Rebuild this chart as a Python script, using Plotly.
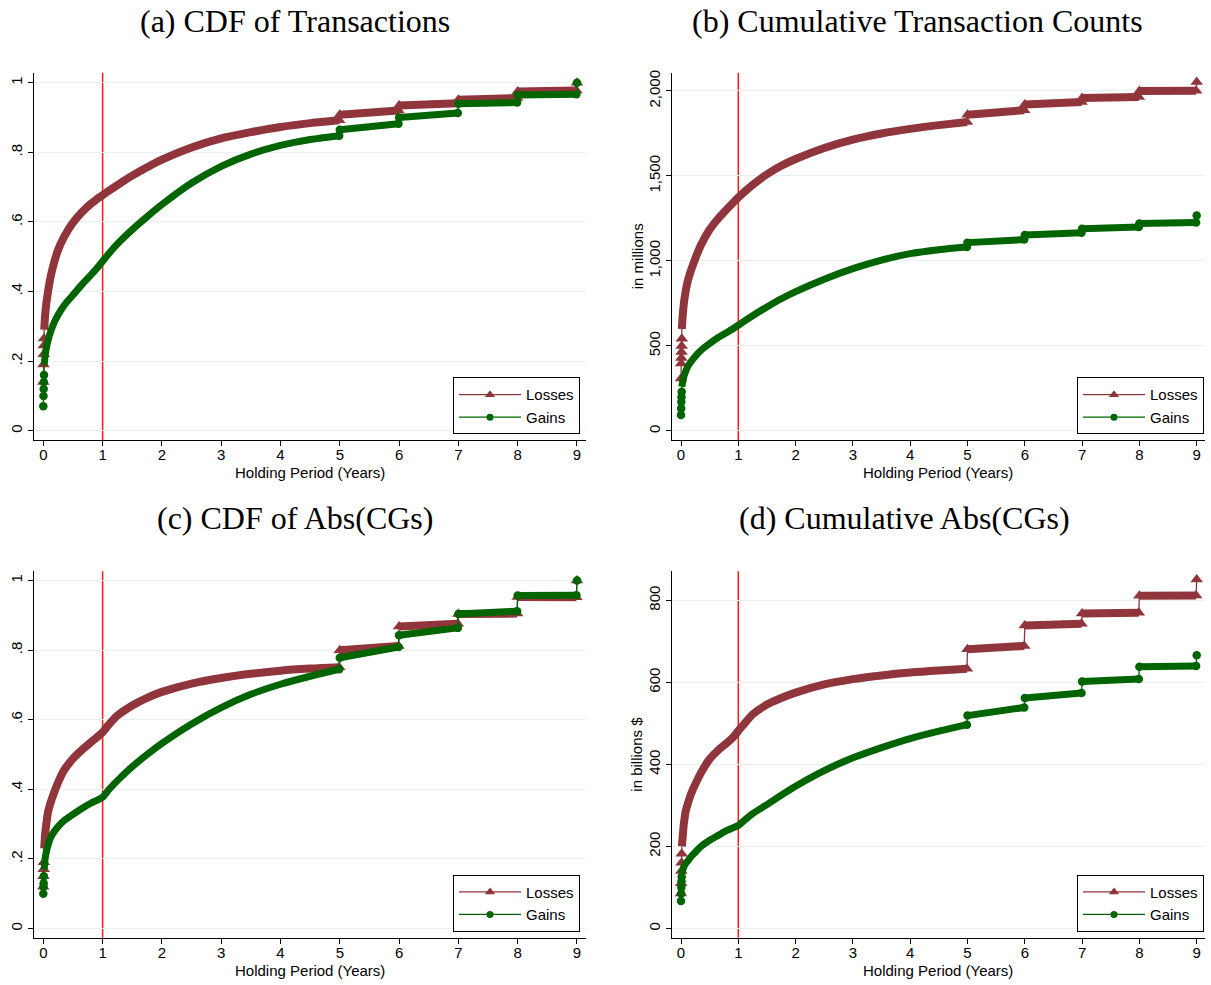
import plotly.graph_objects as go

W, H = 1211, 985

# Holding period grid (years) for the smooth part of each curve
YEARS = [0.015, 0.03, 0.05, 0.08, 0.12, 0.18, 0.25, 0.35, 0.5, 0.65, 0.8, 0.9,
         1.0, 1.1, 1.25, 1.5, 1.75, 2.0, 2.5, 3.0, 3.5, 4.0, 4.5, 4.99]
# first days of holding (in years), shown as separate markers
FIRST_DAYS = [0.0, 0.003, 0.006, 0.009, 0.012, 0.014]
# yearly steps: each segment runs from year k to just under k + 1
STEP_YEARS = [5, 6, 7, 8]
LAST_YEAR = 9
X_TICKS = [0, 1, 2, 3, 4, 5, 6, 7, 8, 9]

# (a) CDF of Transactions
A_LOSS_FIRST = [0.14, 0.19, 0.22, 0.245, 0.265]
A_LOSS = [0.29, 0.33, 0.365, 0.40, 0.44, 0.482, 0.52, 0.557, 0.598, 0.628, 0.652, 0.665,
          0.677, 0.689, 0.706, 0.733, 0.757, 0.779, 0.814, 0.84, 0.858, 0.873, 0.884, 0.892]
A_LOSS_STEPS = [(0.908, 0.920), (0.935, 0.941), (0.951, 0.956), (0.975, 0.978)]
A_LOSS_LAST = 1.0
A_GAIN_FIRST = [0.07, 0.10, 0.12, 0.14, 0.16]
A_GAIN = [0.19, 0.215, 0.237, 0.26, 0.283, 0.31, 0.333, 0.36, 0.39, 0.42, 0.447, 0.466,
          0.487, 0.508, 0.537, 0.578, 0.615, 0.65, 0.712, 0.76, 0.795, 0.82, 0.837, 0.848]
A_GAIN_STEPS = [(0.865, 0.882), (0.900, 0.913), (0.940, 0.943), (0.965, 0.967)]
A_GAIN_LAST = 1.0

# (b) Cumulative Transaction Counts (millions)
B_LOSS_FIRST = [309, 397, 430, 465, 500, 543]
B_LOSS = [600, 680, 750, 820, 885, 950, 1015, 1095, 1185, 1250, 1305, 1340,
          1374, 1405, 1448, 1510, 1560, 1600, 1665, 1714, 1750, 1777, 1799, 1818]
B_LOSS_STEPS = [(1860, 1887), (1920, 1935), (1958, 1965), (2000, 2002)]
B_LOSS_LAST = 2053
B_GAIN_FIRST = [94, 133, 172, 200, 231]
B_GAIN = [260, 290, 320, 350, 380, 410, 440, 475, 515, 550, 580, 600,
          622, 645, 678, 730, 778, 820, 893, 955, 1005, 1043, 1066, 1082]
B_GAIN_STEPS = [(1108, 1126), (1153, 1166), (1190, 1200), (1220, 1226)]
B_GAIN_LAST = 1267

# (c) CDF of Abs(CGs)
C_LOSS_FIRST = [0.12, 0.15, 0.17, 0.19]
C_LOSS = [0.23, 0.27, 0.30, 0.335, 0.36, 0.39, 0.42, 0.455, 0.488, 0.513, 0.535, 0.549,
          0.564, 0.585, 0.612, 0.641, 0.663, 0.68, 0.704, 0.72, 0.732, 0.741, 0.747, 0.751]
C_LOSS_STEPS = [(0.800, 0.812), (0.868, 0.876), (0.904, 0.905), (0.953, 0.952)]
C_LOSS_LAST = 1.0
C_GAIN_FIRST = [0.10, 0.12, 0.13, 0.15]
C_GAIN = [0.17, 0.20, 0.22, 0.24, 0.26, 0.278, 0.293, 0.31, 0.328, 0.345, 0.36, 0.368,
          0.377, 0.398, 0.425, 0.465, 0.50, 0.532, 0.588, 0.635, 0.673, 0.702, 0.725, 0.745]
C_GAIN_STEPS = [(0.778, 0.809), (0.843, 0.864), (0.904, 0.912), (0.957, 0.958)]
C_GAIN_LAST = 1.0

# (d) Cumulative Abs(CGs) (billions $)
D_LOSS_FIRST = [85, 110, 140, 160, 182]
D_LOSS = [200, 225, 255, 285, 305, 330, 352, 380, 413, 435, 452, 465,
          482, 498, 522, 546, 562, 575, 595, 608, 617, 624, 629, 633]
D_LOSS_STEPS = [(681, 689), (739, 743), (768, 770), (811, 812)]
D_LOSS_LAST = 851
D_GAIN_FIRST = [67, 85, 100, 115, 126]
D_GAIN = [135, 142, 150, 158, 165, 176, 186, 200, 215, 227, 239, 245,
          251, 263, 280, 302, 325, 347, 385, 416, 441, 463, 481, 497]
D_GAIN_STEPS = [(519, 539), (562, 574), (602, 608), (638, 640)]
D_GAIN_LAST = 666

LOSS_COLOR = "#90353b"
GAIN_COLOR = "#006400"
SANS = "Liberation Sans"
SERIF = "Liberation Serif"

fig = go.Figure()


def add_series(n, first, curve, steps, last, color, symbol, msize, band_w, name):
    xa = "x" if n == 1 else f"x{n}"
    ya = "y" if n == 1 else f"y{n}"
    fx = FIRST_DAYS[:len(first)]
    seg_end = [k + 1 - 0.01 for k in STEP_YEARS]

    # thin connectors: first days into the curve, and the jump at each year
    tx = list(fx) + [YEARS[0], None]
    ty = list(first) + [curve[0], None]
    px, py = YEARS[-1], curve[-1]
    for k, e, (s0, s1) in zip(STEP_YEARS, seg_end, steps):
        tx += [px, k, None]
        ty += [py, s0, None]
        px, py = e, s1
    tx += [px, LAST_YEAR]
    ty += [py, last]
    fig.add_trace(go.Scatter(x=tx, y=ty, xaxis=xa, yaxis=ya, mode="lines",
                             line=dict(color=color, width=1.3), connectgaps=False,
                             showlegend=False, hoverinfo="skip"))

    # dense marker band: smooth curve up to year 5
    fig.add_trace(go.Scatter(x=YEARS, y=curve, xaxis=xa, yaxis=ya, mode="lines",
                             line=dict(color=color, width=band_w, shape="spline",
                                       smoothing=0.8),
                             showlegend=False, hoverinfo="skip"))
    # ... then one straight band per year
    bx, by = [], []
    for k, e, (s0, s1) in zip(STEP_YEARS, seg_end, steps):
        bx += [k, e, None]
        by += [s0, s1, None]
    fig.add_trace(go.Scatter(x=bx, y=by, xaxis=xa, yaxis=ya, mode="lines",
                             line=dict(color=color, width=band_w),
                             connectgaps=False, showlegend=False, hoverinfo="skip"))

    # individual markers: first days, band ends, last point
    mx = list(fx) + [YEARS[-1]]
    my = list(first) + [curve[-1]]
    for k, e, (s0, s1) in zip(STEP_YEARS, seg_end, steps):
        mx += [k, e]
        my += [s0, s1]
    mx.append(LAST_YEAR)
    my.append(last)
    fig.add_trace(go.Scatter(x=mx, y=my, xaxis=xa, yaxis=ya, mode="markers",
                             marker=dict(color=color, symbol=symbol, size=msize,
                                         line=dict(width=0)),
                             showlegend=False, hoverinfo="skip"))

    # legend entry
    fig.add_trace(go.Scatter(x=[None], y=[None], xaxis=xa, yaxis=ya,
                             mode="lines+markers", name=name,
                             line=dict(color=color, width=1.3),
                             marker=dict(color=color, symbol=symbol, size=9 if symbol != "circle" else 7),
                             legend="legend" if n == 1 else f"legend{n}"))


panels = [
    (1, A_LOSS_FIRST, A_LOSS, A_LOSS_STEPS, A_LOSS_LAST,
     A_GAIN_FIRST, A_GAIN, A_GAIN_STEPS, A_GAIN_LAST),
    (2, B_LOSS_FIRST, B_LOSS, B_LOSS_STEPS, B_LOSS_LAST,
     B_GAIN_FIRST, B_GAIN, B_GAIN_STEPS, B_GAIN_LAST),
    (3, C_LOSS_FIRST, C_LOSS, C_LOSS_STEPS, C_LOSS_LAST,
     C_GAIN_FIRST, C_GAIN, C_GAIN_STEPS, C_GAIN_LAST),
    (4, D_LOSS_FIRST, D_LOSS, D_LOSS_STEPS, D_LOSS_LAST,
     D_GAIN_FIRST, D_GAIN, D_GAIN_STEPS, D_GAIN_LAST),
]
for (n, lf, lc, ls, ll, gf, gc, gs, gl) in panels:
    add_series(n, lf, lc, ls, ll, LOSS_COLOR, "triangle-up", 11, 8, "Losses")
    add_series(n, gf, gc, gs, gl, GAIN_COLOR, "circle", 8.5, 7, "Gains")

# pixel geometry of the four plot regions
LEFT_X = (34.3, 586.0)
RIGHT_X = (672.3, 1205.4)
TOP_Y = (70.0, 438.3)
BOT_Y = (570.0, 937.7)


def xdom(px):
    return [px[0] / W, px[1] / W]


def ydom(py):
    return [1 - py[1] / H, 1 - py[0] / H]


x_common = dict(range=[-0.152, 9.152], tickvals=X_TICKS, ticks="outside", ticklen=5,
                tickwidth=1, tickcolor="black", showline=True, linecolor="black",
                linewidth=1, showgrid=False, zeroline=False, ticklabelstandoff=-4,
                tickfont=dict(family=SANS, size=15, color="black"))
y_common = dict(ticks="outside", ticklen=5, tickwidth=1, tickcolor="black",
                showline=True, linecolor="black", linewidth=1, showgrid=True,
                gridcolor="#e9f0f2", gridwidth=1, zeroline=False, tickangle=-90,
                tickfont=dict(family=SANS, size=15, color="black"))

CDF_TICKS = [0, 0.2, 0.4, 0.6, 0.8, 1]
CDF_TEXT = ["0", ".2", ".4", ".6", ".8", "1"]
COUNT_TICKS = [0, 500, 1000, 1500, 2000]
COUNT_TEXT = ["0", "500", "1,000", "1,500", "2,000"]
ABS_TICKS = [0, 200, 400, 600, 800]
ABS_TEXT = ["0", "200", "400", "600", "800"]

fig.update_layout(
    xaxis=dict(domain=xdom(LEFT_X), anchor="y", **x_common),
    yaxis=dict(domain=ydom(TOP_Y), anchor="x", range=[-0.0266, 1.0287],
               tickvals=CDF_TICKS, ticktext=CDF_TEXT, **y_common),
    xaxis2=dict(domain=xdom(RIGHT_X), anchor="y2", **x_common),
    yaxis2=dict(domain=ydom(TOP_Y), anchor="x2", range=[-52.8, 2107],
                tickvals=COUNT_TICKS, ticktext=COUNT_TEXT, **y_common),
    xaxis3=dict(domain=xdom(LEFT_X), anchor="y3", **x_common),
    yaxis3=dict(domain=ydom(BOT_Y), anchor="x3", range=[-0.0269, 1.0267],
                tickvals=CDF_TICKS, ticktext=CDF_TEXT, **y_common),
    xaxis4=dict(domain=xdom(RIGHT_X), anchor="y4", **x_common),
    yaxis4=dict(domain=ydom(BOT_Y), anchor="x4", range=[-22.9, 871],
                tickvals=ABS_TICKS, ticktext=ABS_TEXT, **y_common),
)

# vertical line at one year
for n in range(1, 5):
    xr = "x" if n == 1 else f"x{n}"
    yr = "y domain" if n == 1 else f"y{n} domain"
    fig.add_shape(type="line", xref=xr, yref=yr, x0=1, x1=1, y0=0, y1=1,
                  line=dict(color="#ff1a1a", width=1.5), layer="below")

# legends, one per panel
leg_common = dict(bgcolor="white", bordercolor="black", borderwidth=1,
                  font=dict(family=SANS, size=15, color="black"),
                  itemwidth=62, xanchor="right", yanchor="bottom", tracegroupgap=0)
fig.update_layout(
    legend=dict(x=580 / W, y=1 - 432.7 / H, **leg_common),
    legend2=dict(x=1204 / W, y=1 - 432.7 / H, **leg_common),
    legend3=dict(x=580 / W, y=1 - 931.5 / H, **leg_common),
    legend4=dict(x=1204 / W, y=1 - 931.5 / H, **leg_common),
)

# panel titles
titles = [("(a) CDF of Transactions", 295, 18),
          ("(b) Cumulative Transaction Counts", 917, 18),
          ("(c) CDF of Abs(CGs)", 295, 517),
          ("(d) Cumulative Abs(CGs)", 904, 517)]
for text, px, py in titles:
    fig.add_annotation(text=text, x=px / W, y=1 - py / H, xref="paper", yref="paper",
                       showarrow=False, xanchor="center", yanchor="middle",
                       font=dict(family=SERIF, size=32, color="black"))

# axis titles
for px, py in [(310, 471), (938, 471), (310, 970), (938, 970)]:
    fig.add_annotation(text="Holding Period (Years)", x=px / W, y=1 - py / H,
                       xref="paper", yref="paper", showarrow=False,
                       xanchor="center", yanchor="middle",
                       font=dict(family=SANS, size=15, color="black"))
for text, px, py in [("in millions", 637, 254), ("in billions $", 637, 754)]:
    fig.add_annotation(text=text, x=px / W, y=1 - py / H, xref="paper", yref="paper",
                       showarrow=False, textangle=-90, xanchor="center", yanchor="middle",
                       font=dict(family=SANS, size=15, color="black"))

fig.update_layout(width=W, height=H, margin=dict(l=0, r=0, t=0, b=0),
                  paper_bgcolor="white", plot_bgcolor="white")

fig.write_html("out.html")
